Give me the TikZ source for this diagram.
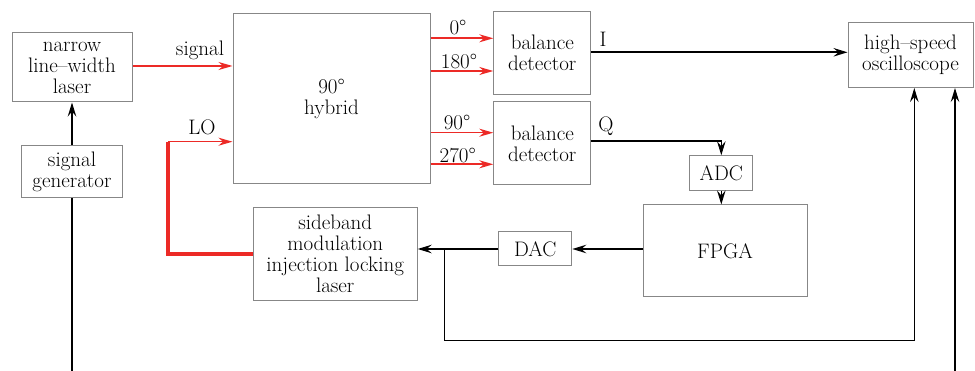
\documentclass[tikz,border=0pt]{standalone}
\usetikzlibrary{arrows.meta}
\definecolor{boxgray}{RGB}{135,135,135}
\definecolor{beamred}{RGB}{236,42,38}
\begin{document}
\begin{tikzpicture}[x=1pt,y=-1pt,
  font=\fontsize{21}{21}\selectfont,
  blk/.style={draw=boxgray,line width=1pt,inner sep=0pt,align=center},
  lbl/.style={inner sep=0pt},
  wire/.style={draw=black,line width=1.6pt},
  beam/.style={draw=beamred,line width=1.6pt},
  thickbeam/.style={draw=beamred,line width=3.2pt},
  tip/.style={-{Stealth[length=14pt,width=8.5pt,inset=5pt]}},
  redtip/.style={-{Stealth[length=14pt,width=8pt,inset=4.5pt]}},
]
\useasboundingbox (0,0) rectangle (975,371);

% blocks
\node[blk,minimum width=120,minimum height=69] (laser) at (72,67.5) {narrow\\line--width\\laser};
\node[blk,minimum width=101,minimum height=52] (gen) at (72,172) {signal\\generator};
\node[blk,minimum width=197,minimum height=170] (hyb) at (331.5,99) {90°\\hybrid};
\node[blk,minimum width=97,minimum height=83] (bd1) at (542.3,52.7) {balance\\detector};
\node[blk,minimum width=97,minimum height=83] (bd2) at (542.3,143.3) {balance\\detector};
\node[blk,minimum width=125,minimum height=65] (osc) at (910.5,55) {high--speed\\oscilloscope};
\node[blk,minimum width=63,minimum height=35] (adc) at (721.3,173.3) {ADC};
\node[blk,minimum width=164,minimum height=92] (fpga) at (725,251) {FPGA};
\node[blk,minimum width=73,minimum height=34] (dac) at (535.3,249) {DAC};
\node[blk,minimum width=164,minimum height=93] (sb) at (335.2,254) {sideband\\modulation\\injection locking\\laser};

% helper points
\coordinate (gnd) at (72,371);
\coordinate (lo) at (168,141.7);
\coordinate (lobot) at (168,254);
\coordinate (jn) at (444.3,249);
\coordinate (fb1) at (444.3,340.7);
\coordinate (fb2) at (914.3,340.7);
\coordinate (trig) at (955,371);

% electrical connections
\draw[wire,tip] (gen.north) -- (laser.south);
\draw[wire] (gen.south) -- (gnd);
\draw[wire,tip] (bd1.east |- 0,52.3) -- (osc.west |- 0,52.3);
\draw[wire,line width=1.2pt,tip] (bd2.east |- 0,141) -| (adc.north);
\draw[wire,tip] (adc.south) -- (fpga.north -| adc.south);
\draw[wire,tip] (fpga.west |- 0,249) -- (dac.east);
\draw[wire,tip] (dac.west) -- (sb.east |- 0,249);
\draw[wire,line width=1.3pt,tip] (jn) -- (fb1) -- (fb2) -- (osc.south -| fb2);
\draw[wire,line width=1.3pt,tip] (trig) -- (osc.south -| trig);

% optical paths
\draw[beam,redtip] (laser.east |- 0,66) -- (hyb.west |- 0,66);
\draw[thickbeam] (sb.west) -- (lobot) -- (lo);
\draw[beam,redtip] (lo) -- (hyb.west |- lo);
\draw[beam,redtip] (hyb.east |- 0,38.3) -- (bd1.west |- 0,38.3);
\draw[beam,redtip] (hyb.east |- 0,71) -- (bd1.west |- 0,71);
\draw[beam,redtip] (hyb.east |- 0,132.7) -- (bd2.west |- 0,132.7);
\draw[beam,redtip] (hyb.east |- 0,164.3) -- (bd2.west |- 0,164.3);

% labels
\node[lbl] (tsig) at (200,50) {signal};
\node[lbl] (tlo) at (202,127) {LO};
\node[lbl] (t0) at (458,28) {0°};
\node[lbl] (t180) at (459,61.7) {180°};
\node[lbl] (t90) at (457,122.7) {90°};
\node[lbl] (t270) at (457.7,155) {270°};
\node[lbl] (tI) at (603,39) {I};
\node[lbl] (tQ) at (606,126) {Q};
\end{tikzpicture}
\end{document}
